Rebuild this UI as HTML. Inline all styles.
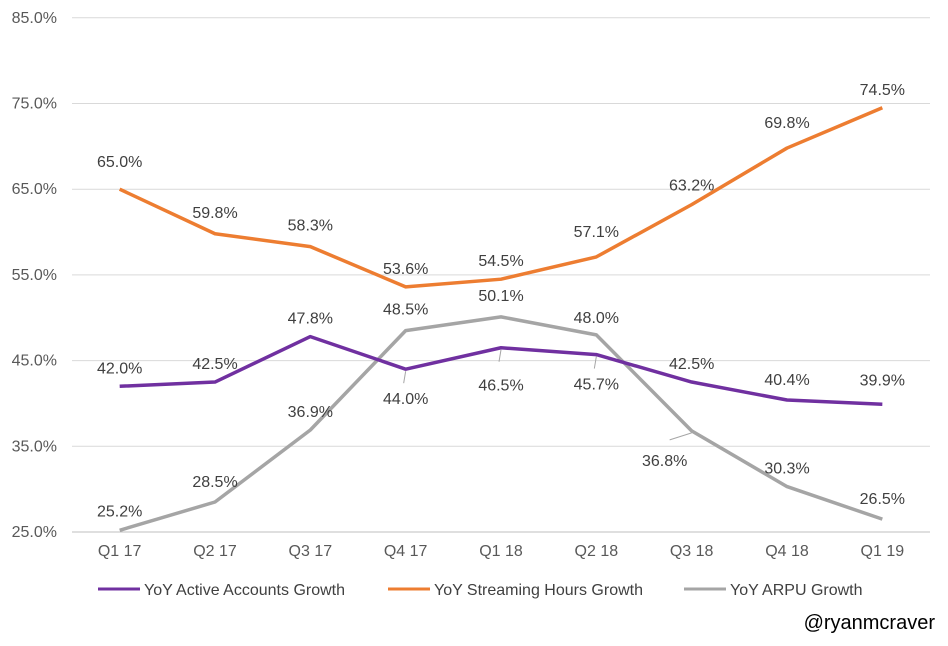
<!DOCTYPE html>
<html><head><meta charset="utf-8">
<style>
body{margin:0;background:#fff;}
svg{display:block;font-family:"Liberation Sans",Arial,sans-serif;}
</style></head>
<body>
<svg id="chart" width="948" height="646" viewBox="0 0 948 646">
<g id="grid"></g>
<g id="yaxis"></g>
<g id="xaxis"></g>
<g id="series"></g>
<g id="labels"></g>
<g font-size="16" fill="#404040">
 <g>
  <line x1="98" y1="589" x2="140" y2="589" stroke="#7030A0" stroke-width="3"/>
  <text x="144" y="595">YoY Active Accounts Growth</text></g>
 <g>
  <line x1="388" y1="589" x2="430" y2="589" stroke="#ED7D31" stroke-width="3"/>
  <text x="434" y="595">YoY Streaming Hours Growth</text></g>
 <g>
  <line x1="684" y1="589" x2="726" y2="589" stroke="#A5A5A5" stroke-width="3"/>
  <text x="730" y="595">YoY ARPU Growth</text></g>
</g>
<text x="935" y="629" text-anchor="end" font-size="20" fill="#000">@ryanmcraver</text>
</svg>
<script>
const categories=["Q1 17","Q2 17","Q3 17","Q4 17","Q1 18","Q2 18","Q3 18","Q4 18","Q1 19"];
const activeAccounts=[42.0,42.5,47.8,44.0,46.5,45.7,42.5,40.4,39.9];
const streamingHours=[65.0,59.8,58.3,53.6,54.5,57.1,63.2,69.8,74.5];
const arpu=[25.2,28.5,36.9,48.5,50.1,48.0,36.8,30.3,26.5];
const yTicks=[25,35,45,55,65,75,85];
const NS="http://www.w3.org/2000/svg";
const left=72,right=930;
const step=(right-left)/categories.length;
function x(i){return left+step*(i+0.5);}
function y(v){return 532-(v-25)*8.57;}
function el(tag,attrs,parent){const e=document.createElementNS(NS,tag);for(const k in attrs)e.setAttribute(k,attrs[k]);parent.appendChild(e);return e;}
const grid=document.getElementById('grid'),ya=document.getElementById('yaxis'),xa=document.getElementById('xaxis'),ser=document.getElementById('series'),lab=document.getElementById('labels');
yTicks.forEach(t=>{
 const g=el('line',{x1:left,x2:right,y1:y(t),y2:y(t),stroke:t===25?'#BFBFBF':'#D9D9D9','stroke-width':1},grid);
 
 
 const tx=el('text',{x:57,y:y(t)+5,'text-anchor':'end','font-size':16,fill:'#595959'},ya);
 tx.textContent=t.toFixed(1)+'%';
 
 
});
categories.forEach((c,i)=>{
 const tx=el('text',{x:x(i),y:556,'text-anchor':'middle','font-size':16,fill:'#595959'},xa);
 tx.textContent=c;
 
 
});
const offActive=[-18,-18,-18,30,38,30,-18,-20,-24];
const offStream=[-27,-21,-21,-18,-18,-25,-19,-25,-18];
const offArpu=[-19,-20,-18,-21,-21,-17,30,-18,-20];
const dxArpu=[0,0,0,0,0,0,-27,0,0];
function drawSeries(vals,color,name,offs,dxs){
 const p=el('polyline',{points:vals.map((v,i)=>x(i)+','+y(v)).join(' '),fill:'none',stroke:color,'stroke-width':3.5,'stroke-linejoin':'round'},ser);
 
 
 vals.forEach((v,i)=>{
  const dx=dxs?dxs[i]:0;
  const tx=el('text',{x:x(i)+dx,y:y(v)+offs[i]+5,'text-anchor':'middle','font-size':16,fill:'#404040'},lab);
  tx.textContent=v.toFixed(1)+'%';
  
  
 });
}
drawSeries(arpu,'#A5A5A5','arpu',offArpu,dxArpu);
drawSeries(streamingHours,'#ED7D31','streaming-hours',offStream,null);
drawSeries(activeAccounts,'#7030A0','active-accounts',offActive,null);
[[3,activeAccounts],[4,activeAccounts],[5,activeAccounts],[6,arpu]].forEach(([i,arr])=>{
 const dx=arr===arpu?-22:0;
 const l=el('line',{x1:x(i),y1:y(arr[i])+2,x2:x(i)+(dx?dx:-2),y2:y(arr[i])+(dx?9:14),stroke:'#A5A5A5','stroke-width':1},lab);
 
 
});
</script>
</body></html>
